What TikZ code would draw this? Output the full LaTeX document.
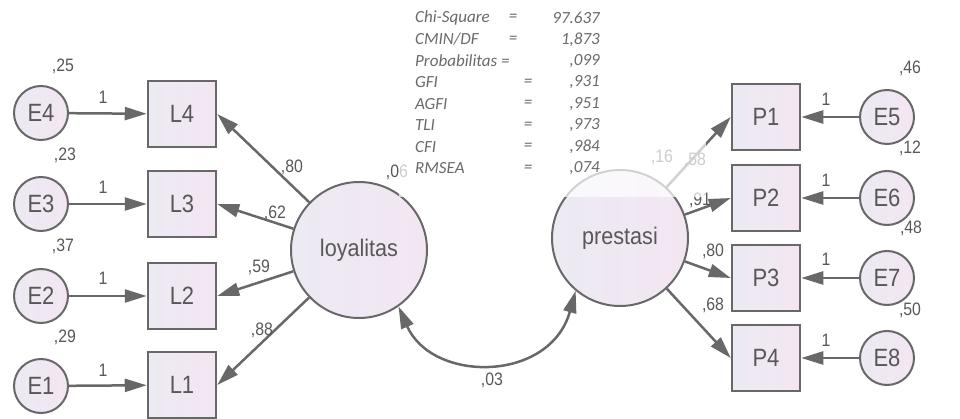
\documentclass[tikz,border=0pt]{standalone}
\usepackage{fontspec}
\usepackage{graphicx}
\setmainfont{Liberation Sans}
\newfontfamily\statfont{Carlito}
\usetikzlibrary{arrows.meta}
\definecolor{edge}{HTML}{686868}
\definecolor{ink}{HTML}{585858}
\definecolor{fillL}{HTML}{ECEAF3}
\definecolor{fillR}{HTML}{F3E6F3}
\definecolor{statink}{HTML}{6A6A6A}
\newcommand\narrowtxt[1]{\scalebox{0.88}[1]{#1}}
\tikzset{
  errnode/.style={circle, draw=edge, line width=2pt, minimum size=54pt, inner sep=0pt,
    left color=fillL, right color=fillR, text=ink, font=\fontsize{25}{25}\selectfont},
  obsbox/.style={rectangle, draw=edge, line width=2.5pt, minimum width=68pt, minimum height=66pt,
    inner sep=0pt, left color=fillL, right color=fillR, text=ink, font=\fontsize{25}{25}\selectfont},
  latent/.style={circle, draw=edge, line width=2pt, minimum size=136pt, inner sep=0pt,
    left color=fillL, right color=fillR, text=ink, font=\fontsize{24}{24}\selectfont},
  tipshape/.tip={Triangle[length=22pt,width=13pt]},
  link/.style={draw=edge, line width=2.5pt, -tipshape},
  cov/.style={draw=edge, line width=2.5pt, tipshape-tipshape},
  est/.style={text=ink, font=\fontsize{18}{18}\selectfont, inner sep=0pt},
  stat/.style={text=statink, font=\statfont\itshape\fontsize{17}{17}\selectfont, inner sep=0pt},
}
\begin{document}
\begin{tikzpicture}[x=1pt,y=-1pt]
\useasboundingbox (0,0) rectangle (960,419);
\fill[white] (0,0) rectangle (960,419);

% latent constructs
\node[latent] (loy) at (359,250) {\scalebox{0.9}[1]{loyalitas}};
\node[latent] (pres) at (620,238) {\scalebox{0.9}[1]{prestasi}};

% loyalitas indicators and their errors
\foreach \i/\y in {4/114,3/204,2/296,1/385}{
  \node[obsbox] (L\i) at (182,\y) {\narrowtxt{L\i}};
}
\foreach \i/\y in {4/113,3/204,2/296,1/386}{
  \node[errnode] (E\i) at (41,\y) {\narrowtxt{E\i}};
}
% prestasi indicators and their errors
\foreach \i/\y in {1/117,2/198,3/278,4/358}{
  \node[obsbox] (P\i) at (766,\y) {\narrowtxt{P\i}};
}
\foreach \i/\y in {5/117,6/198,7/278,8/358}{
  \node[errnode] (E\i) at (887,\y) {\narrowtxt{E\i}};
}

% error paths
\foreach \i in {1,2,3,4}{ \draw[link] (E\i) -- (L\i); }
\draw[link] (E5) -- (P1);
\draw[link] (E6) -- (P2);
\draw[link] (E7) -- (P3);
\draw[link] (E8) -- (P4);

% loadings
\foreach \i in {1,2,3,4}{ \draw[link] (loy) -- (L\i.east); }
\foreach \i in {1,2,3,4}{ \draw[link] (pres) -- (P\i.west); }

% covariance
\draw[cov] (loy.-55) .. controls (432,383) and (550,383) .. (pres.-130);

% estimates, left block
\node[est] (v4) at (63,66) {\narrowtxt{,25}};
\node[est] (v3) at (65,155) {\narrowtxt{,23}};
\node[est] (v2) at (63,246) {\narrowtxt{,37}};
\node[est] (v1) at (65,337) {\narrowtxt{,29}};
\node[est] (w4) at (103,97) {\narrowtxt{1}};
\node[est] (w3) at (103,187) {\narrowtxt{1}};
\node[est] (w2) at (103,278) {\narrowtxt{1}};
\node[est] (w1) at (103,370) {\narrowtxt{1}};
\node[est] (k4) at (292,167) {\narrowtxt{,80}};
\node[est] (k3) at (275,213) {\narrowtxt{,62}};
\node[est] (k2) at (259,267) {\narrowtxt{,59}};
\node[est] (k1) at (262,330) {\narrowtxt{,88}};
\node[est] (rl) at (397,172) {\narrowtxt{,06}};
\node[est] (cv) at (492,380) {\narrowtxt{,03}};

% estimates, right block
\node[est] (v5) at (910,68) {\narrowtxt{,46}};
\node[est] (v6) at (910,148) {\narrowtxt{,12}};
\node[est] (v7) at (911,228) {\narrowtxt{,48}};
\node[est] (v8) at (910,310) {\narrowtxt{,50}};
\node[est] (w5) at (826,99) {\narrowtxt{1}};
\node[est] (w6) at (826,180) {\narrowtxt{1}};
\node[est] (w7) at (826,259) {\narrowtxt{1}};
\node[est] (w8) at (826,340) {\narrowtxt{1}};
\node[est] (rp) at (662,157) {\narrowtxt{,16}};
\node[est] (m1) at (695,160) {\narrowtxt{,58}};
\node[est] (m2) at (700,200) {\narrowtxt{,91}};
\node[est] (m3) at (713,251) {\narrowtxt{,80}};
\node[est] (m4) at (713,305) {\narrowtxt{,68}};

% translucent panel behind the fit statistics
\fill[white, opacity=0.7] (399,0) rectangle (706,197);

% fit statistics
\node[stat, anchor=west] (s1) at (415,18) {Chi-Square};
\node[stat] (e1) at (513,18) {=};
\node[stat, anchor=east] (n1) at (600,18) {97.637};
\node[stat, anchor=west] (s2) at (415,39.5) {CMIN/DF};
\node[stat] (e2) at (513,39.5) {=};
\node[stat, anchor=east] (n2) at (600,39.5) {1,873};
\node[stat, anchor=west] (s3) at (415,61) {Probabilitas =};
\node[stat, anchor=east] (n3) at (600,61) {,099};
\foreach \k/\lab/\val/\y in {4/GFI/{,931}/82.5, 5/AGFI/{,951}/104, 6/TLI/{,973}/125.5,
                             7/CFI/{,984}/147, 8/RMSEA/{,074}/168.5}{
  \node[stat, anchor=west] (s\k) at (415,\y) {\lab};
  \node[stat] (e\k) at (528,\y) {=};
  \node[stat, anchor=east] (n\k) at (600,\y) {\val};
}
\end{tikzpicture}
\end{document}
